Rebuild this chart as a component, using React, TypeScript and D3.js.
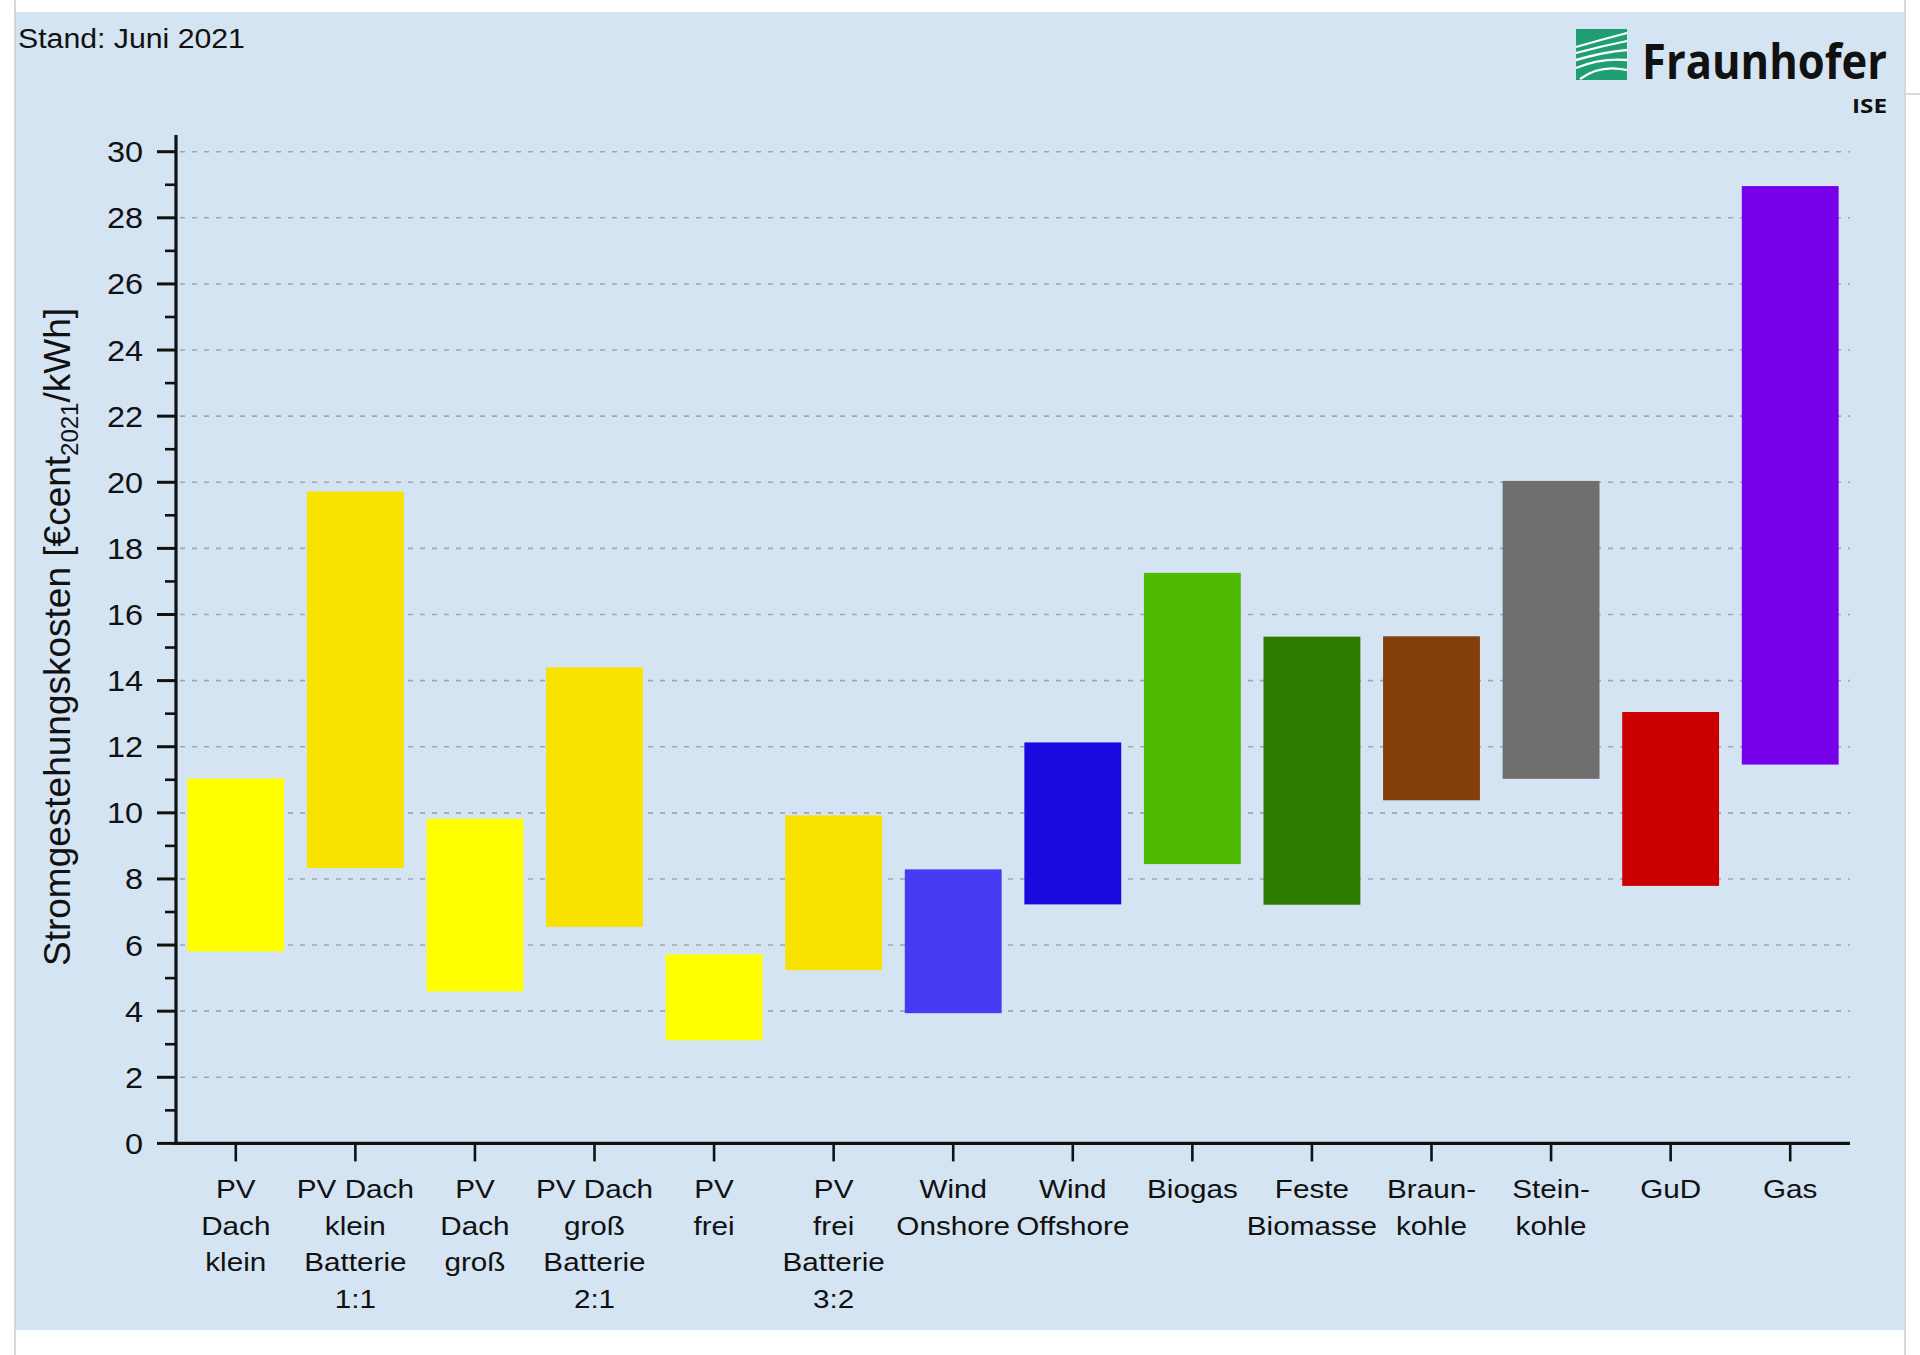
import React from "react";
import * as d3 from "d3";

const categories = [
  "PV Dach klein",
  "PV Dach klein Batterie 1:1",
  "PV Dach groß",
  "PV Dach groß Batterie 2:1",
  "PV frei",
  "PV frei Batterie 3:2",
  "Wind Onshore",
  "Wind Offshore",
  "Biogas",
  "Feste Biomasse",
  "Braunkohle",
  "Steinkohle",
  "GuD",
  "Gas",
];

const labelLines = [
  ["PV", "Dach", "klein"],
  ["PV Dach", "klein", "Batterie", "1:1"],
  ["PV", "Dach", "groß"],
  ["PV Dach", "groß", "Batterie", "2:1"],
  ["PV", "frei"],
  ["PV", "frei", "Batterie", "3:2"],
  ["Wind", "Onshore"],
  ["Wind", "Offshore"],
  ["Biogas"],
  ["Feste", "Biomasse"],
  ["Braun-", "kohle"],
  ["Stein-", "kohle"],
  ["GuD"],
  ["Gas"],
];

const minValues = [5.81, 8.33, 4.6, 6.55, 3.12, 5.24, 3.94, 7.23, 8.45, 7.22, 10.38, 11.03, 7.79, 11.46];
const maxValues = [11.04, 19.72, 9.82, 14.4, 5.72, 9.92, 8.29, 12.13, 17.26, 15.33, 15.34, 20.04, 13.05, 28.96];

const barColors = [
  "#FFFF00",
  "#F7E200",
  "#FFFF00",
  "#F7E200",
  "#FFFF00",
  "#F7E200",
  "#463AF2",
  "#1A0AE0",
  "#4FBB00",
  "#2C7C00",
  "#843F08",
  "#6E6E6E",
  "#CC0000",
  "#7800E8",
];

const yMajorTicks = d3.range(0, 31, 2);
const yMinorTicks = d3.range(1, 30, 2);

const FONT = "'Liberation Sans', Arial, Helvetica, sans-serif";
const STRETCH = 1.12;

export default function App() {
  const W = 1920;
  const H = 1355;
  const left = 176;
  const right = 1850;
  const y = d3.scaleLinear().domain([0, 30]).range([1143.4, 151.7]);
  const x = d3
    .scaleBand<string>()
    .domain(categories)
    .range([left, right])
    .paddingInner(0.19)
    .paddingOuter(0.095);
  const bw = x.bandwidth();
  const y0 = y(0);

  return (
    <svg
      width={W}
      height={H}
      viewBox={`0 0 ${W} ${H}`}
      style={{ position: "absolute", left: 0, top: 0, display: "block" }}
      fontFamily={FONT}
    >
      <rect x={0} y={0} width={W} height={H} fill="#ffffff" />
      <rect x={15} y={12} width={1889} height={1318} fill="#D4E4F2" />
      {/* screenshot frame lines */}
      <line x1={15} y1={0} x2={15} y2={H} stroke="#C9CCCF" strokeWidth={1.5} />
      <line x1={1905} y1={0} x2={1905} y2={H} stroke="#C9CCCF" strokeWidth={1.5} />
      <line x1={1905} y1={94} x2={W} y2={94} stroke="#C9CCCF" strokeWidth={1.5} />

      {/* gridlines */}
      {yMajorTicks
        .filter((t) => t > 0)
        .map((t) => (
          <line
            key={"g" + t}
            x1={left + 4}
            x2={right}
            y1={y(t)}
            y2={y(t)}
            stroke="#9EA6AF"
            strokeWidth={1.6}
            strokeDasharray="5 7"
          />
        ))}

      {/* bars */}
      {categories.map((c, i) => (
        <rect
          key={c}
          x={x(c)}
          y={y(maxValues[i])}
          width={bw}
          height={y(minValues[i]) - y(maxValues[i])}
          fill={barColors[i]}
        />
      ))}

      {/* y axis */}
      <line x1={left} x2={left} y1={y0 + 1.5} y2={135} stroke="#111" strokeWidth={3.2} />
      {yMajorTicks.map((t) => (
        <g key={"yt" + t}>
          <line x1={157} x2={left} y1={y(t)} y2={y(t)} stroke="#111" strokeWidth={3} />
          <text
            transform={`translate(143, ${y(t) + 10.5}) scale(${STRETCH},1)`}
            textAnchor="end"
            fontSize={29}
            fill="#111"
          >
            {t}
          </text>
        </g>
      ))}
      {yMinorTicks.map((t) => (
        <line key={"ym" + t} x1={165} x2={left} y1={y(t)} y2={y(t)} stroke="#111" strokeWidth={2.6} />
      ))}

      {/* x axis */}
      <line x1={left - 1.5} x2={right} y1={y0} y2={y0} stroke="#111" strokeWidth={3.4} />
      {categories.map((c, i) => {
        const cx = (x(c) as number) + bw / 2;
        return (
          <g key={"xt" + c}>
            <line x1={cx} x2={cx} y1={y0} y2={y0 + 18} stroke="#111" strokeWidth={2.6} />
            {labelLines[i].map((ln, j) => (
              <text
                key={j}
                transform={`translate(${cx}, ${1198 + j * 36.7}) scale(${STRETCH},1)`}
                textAnchor="middle"
                fontSize={26.5}
                fill="#111"
              >
                {ln}
              </text>
            ))}
          </g>
        );
      })}

      {/* y axis title */}
      <text
        transform={`translate(70, 637) rotate(-90)`}
        textAnchor="middle"
        fontSize={37}
        fill="#111"
      >
        Stromgestehungskosten [€cent
        <tspan fontSize={24} dy={8}>
          2021
        </tspan>
        <tspan dy={-8}>/kWh]</tspan>
      </text>

      {/* Stand */}
      <text transform={`translate(18, 48) scale(1.1,1)`} fontSize={27.5} fill="#111">
        Stand: Juni 2021
      </text>

      {/* Fraunhofer logo */}
      <g>
        <rect x={1576} y={29} width={51} height={51} fill="#1F9E74" />
        <path d="M1576,47 Q1600,40 1627,33" stroke="#fff" strokeWidth={2.2} fill="none" />
        <path d="M1576,53 Q1602,46 1627,41" stroke="#fff" strokeWidth={2.2} fill="none" />
        <path d="M1576,60 Q1603,52 1627,50" stroke="#fff" strokeWidth={2.4} fill="none" />
        <path d="M1576,68 Q1600,58 1627,60" stroke="#fff" strokeWidth={2.4} fill="none" />
        <path d="M1580,79 Q1600,64 1627,70" stroke="#fff" strokeWidth={2.2} fill="none" />
        <text
          x={1642}
          y={79}
          fontFamily="'Open Sans', 'DejaVu Sans', sans-serif"
          fontWeight={700}
          fontSize={49}
          fill="#111"
          textLength={245}
          lengthAdjust="spacingAndGlyphs"
        >
          Fraunhofer
        </text>
        <text
          x={1852}
          y={113}
          fontFamily="'Open Sans', 'DejaVu Sans', sans-serif"
          fontWeight={700}
          fontSize={20}
          fill="#111"
          textLength={35}
          lengthAdjust="spacingAndGlyphs"
        >
          ISE
        </text>
      </g>
    </svg>
  );
}
